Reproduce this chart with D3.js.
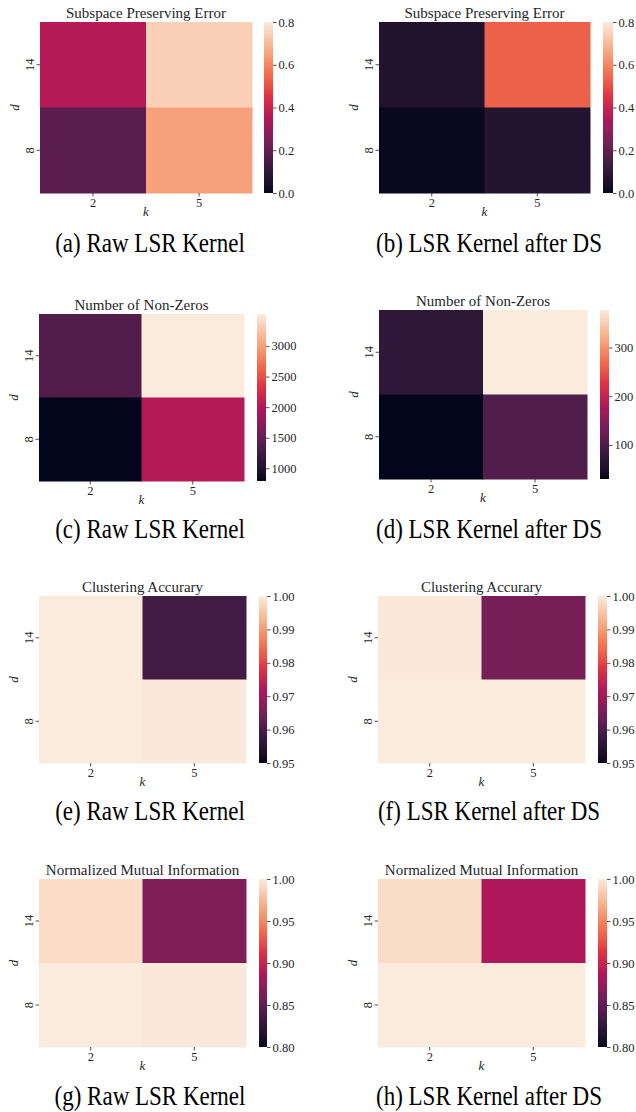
<!DOCTYPE html>
<html>
<head>
<meta charset="utf-8">
<script src="https://cdn.jsdelivr.net/npm/d3@7"></script>
<style>
  body { margin: 0; background: #fff; }
  text { font-family: "Liberation Serif", "Times New Roman", serif; }
</style>
</head>
<body>
<svg id="fig" width="636" height="1112"></svg>
<script>
const kLabels = ["2", "5"]
const dLabels = ["14", "8"]

const titles = [
  "Subspace Preserving Error", "Subspace Preserving Error",
  "Number of Non-Zeros", "Number of Non-Zeros",
  "Clustering Accurary", "Clustering Accurary",
  "Normalized Mutual Information", "Normalized Mutual Information"
]
const captions = [
  "(a) Raw LSR Kernel", "(b) LSR Kernel after DS",
  "(c) Raw LSR Kernel", "(d) LSR Kernel after DS",
  "(e) Raw LSR Kernel", "(f) LSR Kernel after DS",
  "(g) Raw LSR Kernel", "(h) LSR Kernel after DS"
]

// rows: d = 14, d = 8 ; columns: k = 2, k = 5
const spRaw = [[0.36, 0.745], [0.19, 0.65]]
const spDs = [[0.065, 0.53], [0.01, 0.07]]
const nnzRaw = [[1375, 3522], [793, 2010]]
const nnzDs = [[72, 377], [30, 103]]
const accRaw = [[1.0, 0.9585], [1.0, 0.9998]]
const accDs = [[0.9998, 0.965], [1.0, 1.0]]
const nmiRaw = [[0.992, 0.864], [1.0, 0.999]]
const nmiDs = [[0.993, 0.886], [1.0, 1.0]]

const spTicks = [0, 0.2, 0.4, 0.6, 0.8]
const nnzRawTicks = [1000, 1500, 2000, 2500, 3000]
const nnzDsTicks = [100, 200, 300]
const accTicks = [0.95, 0.96, 0.97, 0.98, 0.99, 1.0]
const nmiTicks = [0.80, 0.85, 0.90, 0.95, 1.0]

// seaborn "rocket" anchors
const rocketStops = ["#03051a", "#35193e", "#701f57", "#ad1759", "#e13342", "#f37651", "#f6b48f", "#faebdd"]

const panels = [
  { values: spRaw, vrange: [0, 0.8], ticks: spTicks, fmt: ".1f" },
  { values: spDs, vrange: [0, 0.8], ticks: spTicks, fmt: ".1f" },
  { values: nnzRaw, vrange: null, ticks: nnzRawTicks, fmt: "d" },
  { values: nnzDs, vrange: null, ticks: nnzDsTicks, fmt: "d" },
  { values: accRaw, vrange: [0.95, 1.0], ticks: accTicks, fmt: ".2f" },
  { values: accDs, vrange: [0.95, 1.0], ticks: accTicks, fmt: ".2f" },
  { values: nmiRaw, vrange: [0.8, 1.0], ticks: nmiTicks, fmt: ".2f" },
  { values: nmiDs, vrange: [0.8, 1.0], ticks: nmiTicks, fmt: ".2f" }
]

// layout of each subplot: heatmap box, colorbar x-range, caption baseline
const layout = [
  { x0: 40, x1: 252, y0: 22, y1: 193, c0: 264, c1: 273, cx: 150, cy: 252 },
  { x0: 379, x1: 590, y0: 22, y1: 193, c0: 603, c1: 613, cx: 489, cy: 252 },
  { x0: 39, x1: 244, y0: 314, y1: 481, c0: 257, c1: 266, cx: 150, cy: 538 },
  { x0: 379, x1: 587, y0: 310, y1: 479, c0: 600, c1: 609, cx: 489, cy: 538 },
  { x0: 39, x1: 246, y0: 596, y1: 763, c0: 259, c1: 267, cx: 150, cy: 820 },
  { x0: 378, x1: 585, y0: 596, y1: 763, c0: 598, c1: 607, cx: 489, cy: 820 },
  { x0: 39, x1: 246, y0: 879, y1: 1047, c0: 259, c1: 267, cx: 150, cy: 1105 },
  { x0: 378, x1: 585, y0: 879, y1: 1047, c0: 598, c1: 607, cx: 489, cy: 1105 }
]

const rocket = d3.scaleLinear()
  .domain(rocketStops.map((c, i) => i / (rocketStops.length - 1)))
  .range(rocketStops)
  .interpolate(d3.interpolateLab)

const svg = d3.select("#fig")

const grad = svg.append("defs").append("linearGradient")
  .attr("id", "rocket")
  .attr("x1", 0).attr("y1", 1).attr("x2", 0).attr("y2", 0)
grad.selectAll("stop")
  .data(d3.range(0, 1.0001, 0.025))
  .join("stop")
  .attr("offset", d => d)
  .attr("stop-color", d => rocket(d))

const tickColor = "#262626"

panels.forEach((p, i) => {
  const L = layout[i]
  const g = svg.append("g")

  const cells = []
  dLabels.forEach((d, r) => kLabels.forEach((k, c) => cells.push({ d, k, v: p.values[r][c] })))

  const vr = p.vrange || d3.extent(cells, c => c.v)
  const norm = d3.scaleLinear().domain(vr).range([0, 1]).clamp(true)

  const x = d3.scaleBand().domain(kLabels).range([L.x0, L.x1])
  const y = d3.scaleBand().domain(dLabels).range([L.y0, L.y1])

  g.selectAll("rect.cell")
    .data(cells)
    .join("rect")
    .attr("class", "cell")
    .attr("x", c => x(c.k))
    .attr("y", c => y(c.d))
    .attr("width", x.bandwidth() + 0.5)
    .attr("height", y.bandwidth() + 0.5)
    .attr("fill", c => rocket(norm(c.v)))

  // x axis
  const xa = g.append("g")
    .attr("transform", `translate(0,${L.y1})`)
    .call(d3.axisBottom(x).tickSize(3.5).tickPadding(2))
  xa.select(".domain").remove()
  xa.selectAll("line").attr("stroke", tickColor).attr("stroke-width", 0.8)
  xa.selectAll("text")
    .attr("fill", tickColor)
    .style("font-size", "12.5px")
    .style("font-family", "'Liberation Serif', serif")

  // y axis, rotated labels
  const ya = g.append("g")
    .attr("transform", `translate(${L.x0},0)`)
    .call(d3.axisLeft(y).tickSize(3.5))
  ya.select(".domain").remove()
  ya.selectAll("line").attr("stroke", tickColor).attr("stroke-width", 0.8)
  ya.selectAll("text")
    .attr("x", 0).attr("dy", 0)
    .attr("text-anchor", "middle")
    .attr("transform", "translate(-6.5,0) rotate(-90)")
    .attr("fill", tickColor)
    .style("font-size", "12.5px")
    .style("font-family", "'Liberation Serif', serif")

  g.append("text")
    .attr("x", (L.x0 + L.x1) / 2)
    .attr("y", L.y1 + 23)
    .attr("text-anchor", "middle")
    .attr("fill", tickColor)
    .style("font-size", "13px")
    .style("font-style", "italic")
    .text("k")

  g.append("text")
    .attr("transform", `translate(${L.x0 - 21},${(L.y0 + L.y1) / 2}) rotate(-90)`)
    .attr("text-anchor", "middle")
    .attr("fill", tickColor)
    .style("font-size", "13px")
    .style("font-style", "italic")
    .text("d")

  g.append("text")
    .attr("x", (L.x0 + L.x1) / 2)
    .attr("y", L.y0 - 4)
    .attr("text-anchor", "middle")
    .attr("fill", tickColor)
    .style("font-size", "15px")
    .text(titles[i])

  // colorbar
  const cs = d3.scaleLinear().domain(vr).range([L.y1, L.y0])
  g.append("rect")
    .attr("x", L.c0).attr("y", L.y0)
    .attr("width", L.c1 - L.c0).attr("height", L.y1 - L.y0)
    .attr("fill", "url(#rocket)")
  const ca = g.append("g")
    .attr("transform", `translate(${L.c1},0)`)
    .call(d3.axisRight(cs).tickValues(p.ticks).tickFormat(d3.format(p.fmt)).tickSize(3.5).tickPadding(2))
  ca.select(".domain").remove()
  ca.selectAll("line").attr("stroke", tickColor).attr("stroke-width", 0.8)
  ca.selectAll("text")
    .attr("fill", tickColor)
    .style("font-size", "12.5px")
    .style("font-family", "'Liberation Serif', serif")

  // subfigure caption
  g.append("text")
    .attr("transform", `translate(${L.cx},${L.cy}) scale(1,1.17)`)
    .attr("text-anchor", "middle")
    .attr("fill", "#000")
    .style("font-size", "23px")
    .text(captions[i])
})
</script>
</body>
</html>
